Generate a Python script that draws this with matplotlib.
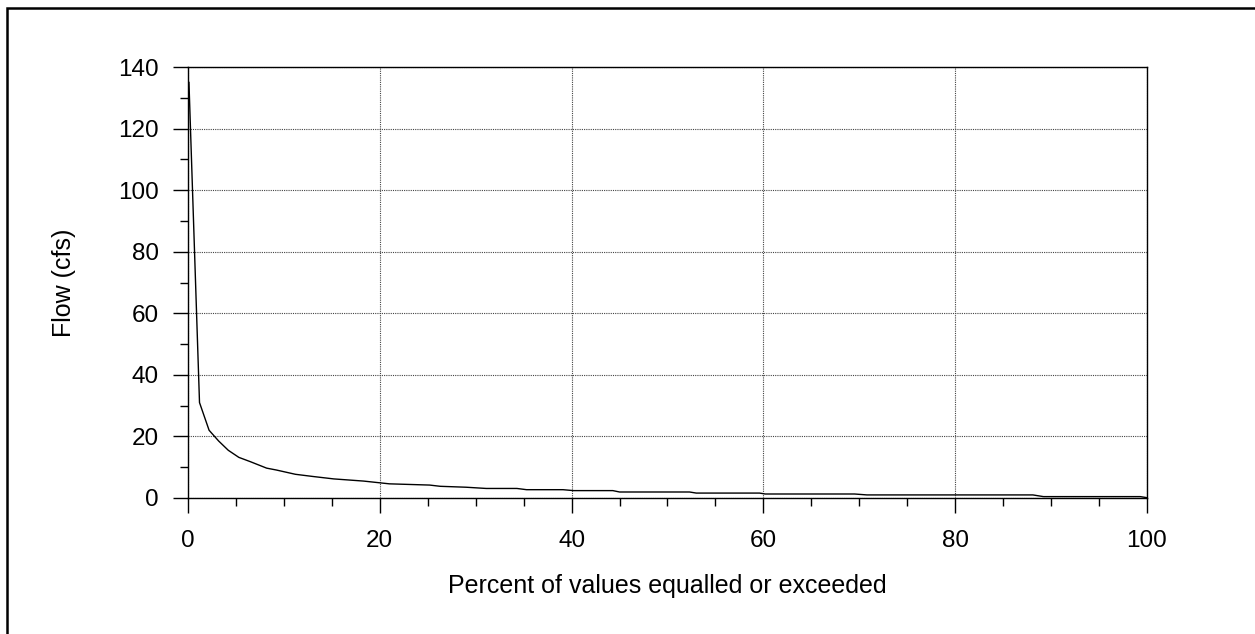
import matplotlib
matplotlib.use("Agg")
import matplotlib.pyplot as plt
from matplotlib.ticker import MultipleLocator
from matplotlib.patches import Rectangle

# Data (breakpoints of the flow-duration curve)
percent = [0.1, 1.2, 2.2, 3.2, 4.2, 5.3, 6.5, 8.2, 9.2, 11.2, 13.0, 15.2, 18.3,
           21.0, 25.2, 26.3, 29.0, 31.1, 34.3, 35.3, 39.1, 40.2, 44.3, 45.0,
           52.3, 53.0, 59.6, 60.2, 69.5, 70.8, 88.1, 89.2, 99.3, 100.0]
flow = [135, 31, 22, 18.5, 15.5, 13.2, 11.8, 9.7, 9.1, 7.7, 7.0, 6.2, 5.5,
        4.6, 4.2, 3.8, 3.5, 3.1, 3.1, 2.7, 2.7, 2.4, 2.4, 1.95,
        1.95, 1.6, 1.6, 1.3, 1.3, 1.0, 1.0, 0.45, 0.45, 0.1]

x_ticks = [0, 20, 40, 60, 80, 100]
y_ticks = [0, 20, 40, 60, 80, 100, 120, 140]
x_label = "Percent of values equalled or exceeded"
y_label = "Flow (cfs)"

plt.rcParams['font.family'] = ['Liberation Sans', 'DejaVu Sans']

W, H = 1255, 634
fig = plt.figure(figsize=(W / 100, H / 100), dpi=100)
ax = fig.add_axes([188 / W, 1 - 498 / H, (1147 - 188) / W, (498 - 67) / H])

ax.plot(percent, flow, color='black', linewidth=1.0)

ax.set_xlim(0, 100)
ax.set_ylim(0, 140)
ax.set_xticks(x_ticks)
ax.set_yticks(y_ticks)
ax.xaxis.set_minor_locator(MultipleLocator(5))
ax.yaxis.set_minor_locator(MultipleLocator(10))

ax.grid(True, which='major', linestyle=(0, (1, 1)), color='#444444', linewidth=0.8)
ax.tick_params(axis='both', which='major', direction='out', length=11, width=1.0,
               labelsize=17.5, color='black')
ax.tick_params(axis='both', which='minor', direction='out', length=6, width=1.0,
               color='black')
ax.tick_params(axis='x', which='major', pad=12)
ax.tick_params(axis='y', which='major', pad=10)

for s in ax.spines.values():
    s.set_linewidth(1.0)
    s.set_color('black')

ax.set_xlabel(x_label, fontsize=18, labelpad=16)
ax.set_ylabel(y_label, fontsize=18, labelpad=30)

# outer frame (extends past the right/bottom edges as in the reference)
fig.patches.append(Rectangle((7 / W, -0.1), 1.2, 1 - 8 / H + 0.1,
                             transform=fig.transFigure, fill=False,
                             edgecolor='black', linewidth=1.8))

fig.savefig("out.png", dpi=100)
